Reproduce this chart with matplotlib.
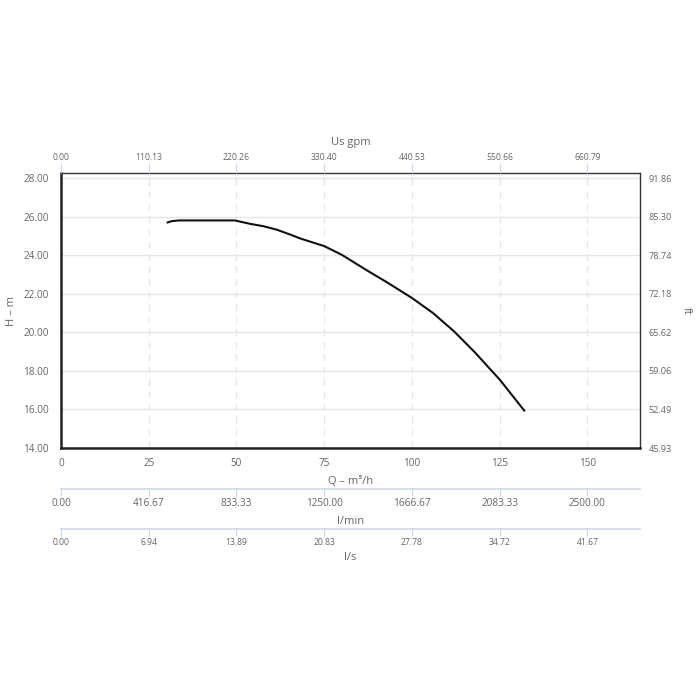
import numpy as np
import matplotlib.pyplot as plt

plt.rcParams['font.family'] = ['Open Sans', 'DejaVu Sans']

# pump curve, Q in m3/h, H in m
flow = [30.1, 31.5, 33.5, 40.0, 49.6, 52.0, 54.0, 57.7, 61.5, 65.3, 68.1, 75.0,
        80.0, 87.1, 93.0, 100.0, 106.0, 112.0, 118.0, 125.0, 132.2]
head = [25.68, 25.76, 25.80, 25.80, 25.80, 25.70, 25.62, 25.50, 25.32, 25.07, 24.87,
        24.47, 24.02, 23.22, 22.58, 21.78, 21.00, 20.05, 18.95, 17.55, 15.90]

q_ticks = [0, 25, 50, 75, 100, 125, 150]
gpm_labels = ['0.00', '110.13', '220.26', '330.40', '440.53', '550.66', '660.79']
lmin_labels = ['0.00', '416.67', '833.33', '1250.00', '1666.67', '2083.33', '2500.00']
ls_labels = ['0.00', '6.94', '13.89', '20.83', '27.78', '34.72', '41.67']
h_ticks = [14, 16, 18, 20, 22, 24, 26, 28]
h_labels = ['14.00', '16.00', '18.00', '20.00', '22.00', '24.00', '26.00', '28.00']
ft_labels = ['45.93', '52.49', '59.06', '65.62', '72.18', '78.74', '85.30', '91.86']

txt = '#666666'
axc = '#ccd6eb'
grid = '#e6e6e6'
W = H = 700.0
x0, x1, y0, y1 = 61, 640, 173, 448
xmax, ymax = 165.0, 28.26

fig = plt.figure(figsize=(7, 7), dpi=100)
ax = fig.add_axes([x0 / W, 1 - y1 / H, (x1 - x0) / W, (y1 - y0) / H])
ax.plot(flow, head, color='#111111', lw=1.5, solid_capstyle='butt',
        solid_joinstyle='round', zorder=5)
ax.set_xlim(0, xmax)
ax.set_ylim(14, ymax)
ax.set_xticks(q_ticks)
ax.set_yticks(h_ticks)
ax.set_yticklabels(h_labels)
ax.grid(axis='y', color=grid, lw=1, ls='-')
ax.grid(axis='x', color=grid, lw=1, ls=(0, (5, 4)))
ax.tick_params(axis='both', length=0, labelsize=7.2, labelcolor=txt)
ax.tick_params(axis='x', pad=7)
ax.tick_params(axis='y', pad=8.5)
for k in ['left', 'bottom']:
    ax.spines[k].set_linewidth(1.8)
    ax.spines[k].set_color('#222222')
for k in ['top', 'right']:
    ax.spines[k].set_linewidth(1)
    ax.spines[k].set_color('#333333')
ax.set_ylabel('H – m', color=txt, fontsize=8)
ax.yaxis.set_label_coords((12 - x0) / (x1 - x0), 0.5)
ax.set_xlabel('Q – m³/h', color=txt, fontsize=8)
ax.xaxis.set_label_coords(0.5, (y1 - 481) / (y1 - y0))
ax.xaxis.label.set_va('center')
ax.yaxis.label.set_va('center')

# top axis in US gpm
top = ax.twiny()
top.set_xlim(0, xmax)
top.set_xticks(q_ticks)
top.set_xticklabels(gpm_labels)
top.tick_params(axis='x', length=7, color=axc, labelsize=6.2, labelcolor=txt, pad=0.8)
top.set_xlabel('Us gpm', color=txt, fontsize=8)
top.xaxis.set_label_coords(0.5, (y1 - 142.5) / (y1 - y0))
top.xaxis.label.set_va('center')
for s in top.spines.values():
    s.set_visible(False)

# right axis in ft
right = ax.twinx()
right.set_ylim(14, ymax)
right.set_yticks(h_ticks)
right.set_yticklabels(ft_labels)
right.tick_params(axis='y', length=0, labelsize=6.6, labelcolor=txt, pad=6)
right.set_ylabel('ft', color=txt, fontsize=8, rotation=270)
right.yaxis.set_label_coords((686 - x0) / (x1 - x0), 0.5)
right.yaxis.label.set_va('center')
for s in right.spines.values():
    s.set_visible(False)

# extra flow axes below
def extra_axis(ypix, labels, size, title, ytitle):
    a = fig.add_axes([x0 / W, 1 - ypix / H, (x1 - x0) / W, 0.0001])
    a.set_xlim(0, xmax)
    a.set_xticks(q_ticks)
    a.set_xticklabels(labels)
    a.set_yticks([])
    for k in ['top', 'left', 'right']:
        a.spines[k].set_visible(False)
    a.spines['bottom'].set_color(axc)
    a.spines['bottom'].set_linewidth(1.2)
    a.tick_params(axis='x', length=5, color=axc, labelsize=size, labelcolor=txt, pad=1.5)
    a.patch.set_visible(False)
    fig.text(0.5 * (x0 + x1) / W, 1 - ytitle / H, title, color=txt, fontsize=8,
             ha='center', va='center')
    return a

extra_axis(489, lmin_labels, 7.2, 'l/min', 521)
extra_axis(529, ls_labels, 6.2, 'l/s', 558)

fig.savefig('out.png', dpi=100, facecolor='white')
